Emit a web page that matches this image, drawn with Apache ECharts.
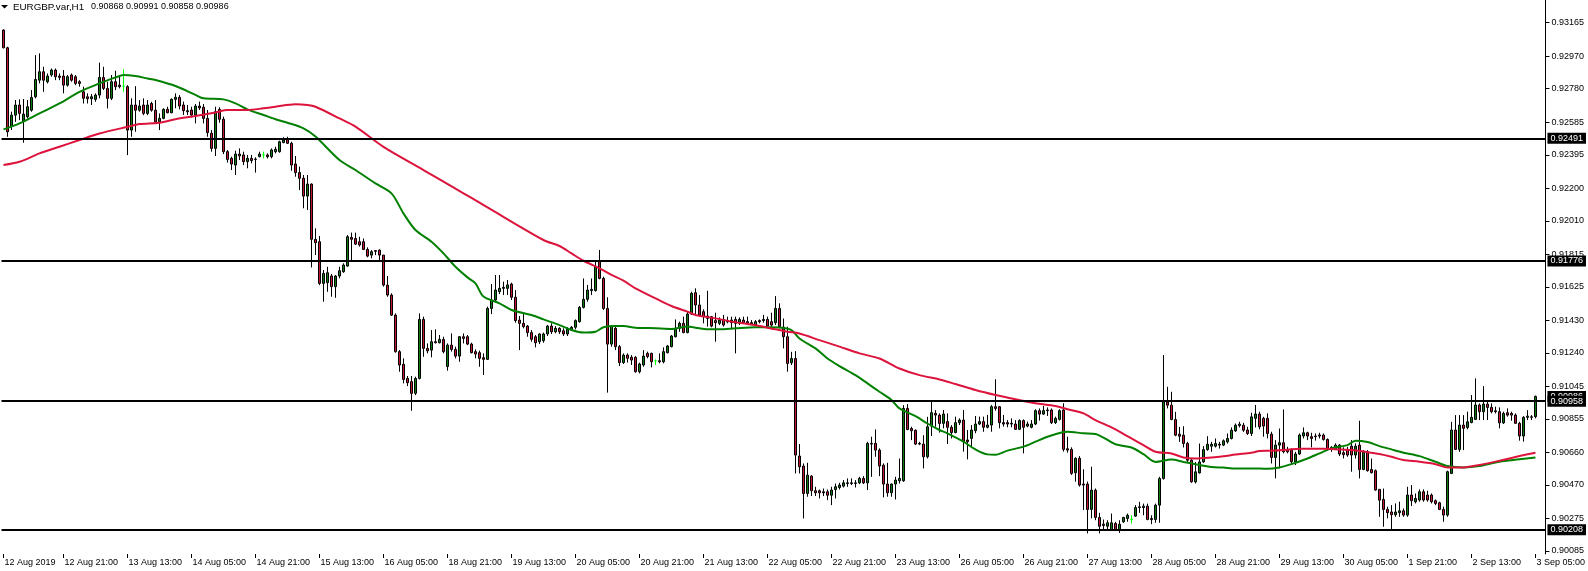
<!DOCTYPE html>
<html><head><meta charset="utf-8">
<script src="https://cdn.jsdelivr.net/npm/echarts@6/dist/echarts.min.js"></script>
<style>html,body{margin:0;padding:0;background:#fff;overflow:hidden}#c{width:1588px;height:571px}</style>
</head><body><div id="c"></div>
<script>
// ---- DATA (prices in points: 1 point = 0.00001) ----
const symbolTitle = 'EURGBP.var,H1';
const lastQuote = ['0.90868', '0.90991', '0.90858', '0.90986'];
// hourly candles [open, high, low, close]
const ohlc = [
[93122,93126,93015,93019],[93019,93025,92500,92529],[92562,92646,92539,92626],[92626,92714,92587,92685],[92685,92718,92597,92636],[92593,92720,92465,92632],[92617,92714,92607,92675],[92655,92772,92646,92729],
[92733,92976,92724,92834],[92830,92986,92811,92879],[92879,92908,92762,92830],[92821,92869,92811,92854],[92860,92898,92850,92889],[92889,92898,92830,92850],[92854,92869,92830,92846],[92854,92889,92753,92801],
[92801,92860,92792,92850],[92860,92869,92821,92830],[92850,92860,92801,92811],[92821,92830,92792,92811],[92762,92792,92694,92724],[92733,92753,92694,92722],[92722,92749,92685,92733],[92718,92753,92704,92743],
[92743,92932,92724,92846],[92846,92908,92772,92782],[92782,92821,92665,92724],[92724,92860,92714,92821],[92821,92885,92772,92792],[92801,92850,92782,92792],[92795,92893,92762,92795],[92792,92801,92393,92539],
[92539,92724,92500,92685],[92685,92795,92529,92655],[92655,92714,92646,92679],[92685,92724,92626,92636],[92636,92714,92626,92685],[92694,92704,92646,92655],[92655,92714,92578,92587],[92587,92636,92539,92607],
[92607,92666,92602,92660],[92660,92675,92637,92640],[92640,92724,92637,92718],[92718,92753,92666,92730],[92730,92743,92660,92679],[92685,92705,92627,92652],[92652,92685,92627,92646],[92656,92675,92613,92627],
[92627,92691,92578,92679],[92679,92705,92656,92668],[92672,92691,92578,92607],[92607,92656,92500,92524],[92520,92539,92413,92432],[92432,92675,92388,92646],[92660,92672,92582,92602],[92602,92617,92399,92413],
[92413,92423,92349,92368],[92374,92384,92306,92341],[92335,92419,92277,92399],[92399,92432,92364,92388],[92394,92413,92335,92355],[92355,92394,92316,92374],[92374,92394,92345,92361],[92370,92380,92291,92368],
[92384,92413,92380,92399],[92394,92413,92374,92394],[92394,92403,92374,92384],[92384,92432,92374,92423],[92413,92442,92403,92427],[92413,92477,92407,92471],[92466,92497,92462,92481],[92485,92500,92458,92462],
[92462,92471,92302,92335],[92341,92388,92267,92291],[92291,92326,92189,92258],[92258,92277,92083,92154],[92154,92277,92073,92224],[92224,92228,91738,91902],[91902,91966,91810,91882],[91888,91921,91635,91645],
[91645,91723,91538,91703],[91649,91742,91596,91707],[91688,91700,91567,91626],[91626,91694,91561,91688],[91688,91742,91674,91719],[91713,91762,91707,91752],[91746,91927,91742,91917],[91913,91941,91781,91902],
[91907,91941,91869,91874],[91888,91917,91859,91869],[91888,91907,91839,91843],[91843,91855,91797,91804],[91810,91839,91791,91830],[91836,91839,91810,91832],[91839,91843,91771,91810],[91810,91810,91626,91635],
[91635,91688,91567,91577],[91577,91587,91455,91460],[91460,91470,91241,91247],[91247,91256,91130,91169],[91173,91208,91062,91085],[91091,91105,91046,91066],[91072,91105,90902,91004],[91004,91101,90994,91091],
[91091,91470,91085,91435],[91435,91451,91217,91266],[91266,91295,91237,91252],[91256,91373,91214,91305],[91305,91377,91295,91299],[91299,91344,91295,91318],[91318,91334,91237,91247],[91160,91295,91136,91285],
[91285,91353,91247,91260],[91260,91276,91208,91221],[91221,91338,91188,91334],[91334,91353,91295,91324],[91334,91344,91285,91291],[91291,91299,91237,91241],[91247,91260,91208,91233],[91241,91253,91159,91208],
[91212,91237,91111,91202],[91202,91509,91198,91499],[91499,91641,91466,91548],[91548,91694,91538,91606],[91597,91694,91583,91616],[91622,91655,91577,91616],[91616,91665,91577,91636],[91641,91649,91548,91564],
[91564,91606,91416,91428],[91431,91455,91256,91412],[91412,91466,91383,91393],[91396,91402,91334,91358],[91358,91373,91305,91319],[91334,91344,91272,91299],[91305,91354,91291,91350],[91311,91358,91299,91350],
[91350,91402,91338,91396],[91396,91412,91350,91363],[91363,91396,91354,91383],[91383,91389,91350,91363],[91369,91383,91338,91350],[91350,91389,91338,91377],[91373,91396,91369,91389],[91389,91435,91377,91428],
[91422,91513,91416,91505],[91505,91674,91499,91552],[91552,91636,91538,91606],[91603,91674,91577,91610],[91603,91781,91597,91742],[91772,91840,91669,91674],[91674,91684,91490,91499],[91499,91564,91008,91291],
[91291,91402,91276,91396],[91383,91402,91256,91276],[91276,91286,91163,91183],[91183,91237,91175,91227],[91227,91237,91183,91208],[91214,91227,91169,91198],[91214,91221,91124,91130],[91130,91183,91120,91175],
[91169,91256,91159,91221],[91237,91247,91208,91218],[91237,91241,91155,91188],[91194,91202,91169,91194],[91194,91237,91179,91188],[91188,91272,91179,91247],[91241,91286,91237,91280],[91276,91344,91272,91338],
[91334,91435,91330,91383],[91383,91422,91363,91412],[91412,91451,91354,91358],[91358,91480,91354,91466],[91466,91597,91461,91587],[91591,91616,91461,91519],[91519,91577,91451,91461],[91480,91494,91412,91451],
[91441,91602,91393,91455],[91451,91455,91389,91396],[91428,91474,91305,91416],[91412,91447,91402,91431],[91435,91461,91393,91402],[91428,91451,91412,91420],[91431,91451,91383,91416],[91435,91451,91237,91412],
[91412,91447,91402,91435],[91431,91451,91412,91416],[91422,91451,91402,91412],[91416,91431,91402,91408],[91402,91431,91396,91422],[91428,91435,91412,91422],[91428,91461,91416,91435],[91435,91451,91389,91396],
[91422,91474,91393,91402],[91416,91571,91402,91499],[91499,91529,91383,91393],[91390,91440,91266,91334],[91334,91392,91130,91178],[91182,91246,91169,91207],[91207,91250,90537,90644],[90638,90708,90537,90576],
[90580,90595,90274,90420],[90420,90599,90401,90527],[90521,90527,90405,90436],[90436,90459,90405,90424],[90436,90443,90391,90424],[90430,90449,90405,90424],[90430,90443,90381,90410],[90410,90459,90352,90440],
[90443,90478,90391,90459],[90455,90482,90443,90469],[90463,90498,90455,90482],[90478,90508,90459,90482],[90478,90508,90469,90482],[90482,90498,90455,90478],[90482,90517,90475,90508],[90508,90521,90475,90482],
[90482,90721,90440,90712],[90712,90751,90517,90708],[90712,90793,90634,90673],[90673,90683,90521,90580],[90585,90595,90397,90475],[90475,90599,90401,90424],[90424,90478,90401,90475],[90475,90517,90385,90498],
[90494,90624,90478,90508],[90494,90935,90488,90916],[90916,90941,90789,90793],[90799,90809,90731,90786],[90789,90793,90702,90708],[90712,90721,90702,90708],[90708,90760,90566,90634],[90634,90867,90624,90809],
[90813,90955,90755,90891],[90887,90906,90809,90877],[90877,90887,90775,90828],[90829,90907,90800,90883],[90839,90887,90708,90806],[90806,90819,90741,90775],[90775,90868,90771,90833],[90833,90858,90819,90848],
[90848,90907,90664,90722],[90732,90790,90619,90722],[90741,90819,90693,90790],[90786,90872,90771,90825],[90825,90868,90819,90839],[90839,90868,90780,90806],[90806,90878,90800,90819],[90819,90936,90780,90926],
[90926,91086,90903,90916],[90926,90930,90800,90833],[90833,90878,90810,90825],[90833,90848,90806,90825],[90829,90858,90806,90825],[90825,90848,90790,90794],[90794,90852,90790,90845],[90845,90852,90654,90806],
[90813,90839,90806,90825],[90806,90848,90800,90825],[90825,90911,90819,90903],[90903,90916,90845,90883],[90883,90930,90878,90903],[90907,90922,90872,90903],[90907,90916,90825,90833],[90833,90868,90825,90858],
[90852,90911,90845,90903],[90907,90946,90664,90677],[90681,90751,90658,90673],[90677,90689,90528,90537],[90541,90631,90489,90625],[90625,90638,90460,90469],[90475,90561,90324,90469],[90475,90489,90187,90327],
[90327,90576,90275,90440],[90439,90449,90264,90280],[90280,90307,90187,90229],[90241,90268,90206,90233],[90229,90264,90210,90249],[90210,90303,90202,90249],[90245,90255,90202,90210],[90210,90264,90190,90241],
[90255,90284,90249,90280],[90274,90303,90255,90293],[90268,90293,90245,90268],[90288,90352,90284,90338],[90338,90371,90307,90342],[90338,90361,90293,90346],[90346,90361,90264,90268],[90274,90293,90241,90268],
[90268,90361,90249,90352],[90352,90517,90249,90507],[90507,91227,90501,90954],[90954,91042,90916,90935],[90935,91013,90847,90851],[90851,90896,90754,90760],[90766,90808,90721,90754],[90760,90812,90688,90711],
[90711,90721,90604,90614],[90614,90624,90482,90488],[90488,90604,90478,90546],[90540,90711,90536,90604],[90604,90696,90599,90676],[90676,90754,90669,90707],[90696,90721,90663,90707],[90696,90741,90688,90711],
[90707,90721,90682,90702],[90702,90735,90696,90727],[90721,90770,90711,90741],[90741,90805,90735,90789],[90785,90828,90779,90818],[90816,90838,90805,90824],[90818,90832,90779,90789],[90790,90809,90761,90770],
[90770,90891,90755,90867],[90858,90936,90805,90883],[90883,90897,90794,90809],[90858,90867,90751,90813],[90858,90887,90741,90770],[90766,90780,90595,90630],[90630,90731,90508,90702],[90702,90799,90566,90716],
[90716,90910,90654,90663],[90673,90692,90654,90663],[90673,90683,90586,90605],[90605,90663,90586,90650],[90650,90770,90644,90761],[90755,90805,90741,90774],[90774,90780,90731,90755],[90751,90774,90689,90741],
[90755,90770,90728,90751],[90761,90774,90741,90755],[90761,90770,90728,90735],[90735,90741,90669,90677],[90689,90696,90663,90681],[90677,90712,90673,90702],[90702,90708,90638,90650],[90658,90689,90624,90646],
[90677,90692,90634,90644],[90696,90731,90547,90644],[90644,90712,90624,90696],[90702,90844,90508,90560],[90560,90673,90556,90663],[90663,90673,90547,90553],[90560,90624,90537,90541],[90553,90560,90436,90440],
[90444,90444,90284,90381],[90385,90449,90226,90327],[90327,90343,90275,90308],[90312,90352,90207,90296],[90296,90362,90284,90312],[90308,90372,90284,90319],[90319,90333,90284,90294],[90294,90459,90284,90411],
[90411,90469,90347,90378],[90372,90420,90362,90391],[90382,90444,90372,90430],[90430,90444,90372,90382],[90411,90436,90372,90382],[90411,90420,90362,90372],[90378,90385,90352,90362],[90366,90372,90323,90327],
[90327,90343,90255,90294],[90294,90553,90284,90547],[90537,90838,90533,90790],[90790,90877,90673,90677],[90677,90877,90663,90819],[90819,90877,90673,90800],[90805,90897,90794,90838],[90834,90994,90829,90864],
[90852,91091,90848,90936],[90936,90945,90848,90897],[90897,91046,90848,90941],[90941,90965,90848,90922],[90922,90945,90887,90897],[90902,90926,90887,90897],[90897,90922,90800,90832],[90832,90897,90825,90887],
[90891,90916,90868,90877],[90887,90897,90844,90877],[90877,90887,90825,90829],[90829,90838,90728,90755],[90755,90871,90722,90864],[90864,90906,90848,90871],[90864,90877,90848,90867],[90868,90991,90858,90986]
];
// moving averages: [bar index, value]
const fastMA = [
[0,92543],[4,92578],[9,92636],[14,92694],[19,92762],[24,92811],[28,92846],[30,92860],[33,92854],[36,92840],[38,92831],[43,92796],[48,92744],[50,92724],[55,92718],[58,92695],[61,92660],[65,92627],[68,92602],[71,92582],[75,92549],[78,92501],[84,92364],[88,92306],[93,92228],[97,92170],[100,92053],[103,91956],[107,91888],[110,91820],[113,91742],[116,91680],[118,91645],[120,91568],[124,91529],[127,91490],[132,91461],[135,91435],[139,91402],[142,91373],[145,91358],[148,91363],[150,91389],[153,91396],[155,91396],[158,91387],[163,91383],[167,91379],[171,91393],[173,91387],[176,91377],[179,91377],[183,91383],[188,91389],[192,91389],[194,91388],[197,91373],[199,91324],[203,91266],[206,91207],[209,91163],[213,91110],[216,91062],[219,91013],[222,90965],[224,90916],[228,90871],[231,90828],[234,90790],[236,90771],[240,90722],[243,90677],[246,90648],[248,90646],[251,90670],[255,90693],[258,90722],[261,90751],[265,90778],[266,90780],[270,90771],[273,90767],[275,90746],[278,90707],[282,90688],[285,90649],[288,90604],[292,90618],[295,90604],[298,90591],[302,90575],[305,90571],[308,90566],[312,90566],[316,90564],[319,90572],[322,90591],[326,90624],[329,90654],[332,90683],[336,90702],[338,90728],[341,90720],[344,90696],[347,90677],[350,90658],[354,90638],[358,90605],[361,90580],[365,90572],[369,90580],[374,90605],[379,90619],[383,90630]
];
const slowMA = [
[0,92335],[4,92354],[9,92403],[14,92442],[19,92481],[24,92519],[31,92558],[34,92574],[39,92582],[43,92602],[48,92621],[53,92642],[56,92656],[61,92656],[65,92666],[68,92675],[73,92689],[76,92685],[78,92675],[84,92607],[88,92559],[95,92441],[105,92306],[110,92238],[113,92197],[117,92143],[121,92088],[135,91898],[139,91863],[142,91820],[145,91777],[149,91733],[152,91694],[155,91661],[158,91616],[163,91558],[167,91513],[171,91480],[173,91461],[178,91441],[182,91422],[186,91408],[189,91396],[193,91377],[196,91363],[199,91353],[204,91314],[209,91276],[214,91237],[219,91207],[224,91149],[229,91110],[234,91085],[238,91058],[243,91023],[248,90994],[253,90969],[258,90946],[263,90930],[266,90911],[270,90887],[273,90848],[277,90805],[282,90741],[285,90702],[288,90663],[292,90653],[295,90630],[298,90624],[302,90630],[305,90637],[308,90647],[312,90657],[314,90667],[317,90669],[321,90675],[324,90681],[327,90681],[330,90681],[334,90677],[337,90673],[341,90661],[344,90650],[347,90634],[350,90615],[354,90605],[358,90591],[361,90572],[365,90572],[369,90586],[374,90611],[379,90638],[383,90658]
];
const levels = [0.92491, 0.91776, 0.90958, 0.90208];
const currentPrice = 0.90986;
const yTickLabels = ['0.93165','0.92970','0.92780','0.92585','0.92395','0.92200','0.92010','0.91815','0.91625','0.91430','0.91240','0.91045','0.90855','0.90660','0.90470','0.90275','0.90085'];
const xTickLabels = ['12 Aug 2019','12 Aug 21:00','13 Aug 13:00','14 Aug 05:00','14 Aug 21:00','15 Aug 13:00','16 Aug 05:00','18 Aug 21:00','19 Aug 13:00','20 Aug 05:00','20 Aug 21:00','21 Aug 13:00','22 Aug 05:00','22 Aug 21:00','23 Aug 13:00','26 Aug 05:00','26 Aug 21:00','27 Aug 13:00','28 Aug 05:00','28 Aug 21:00','29 Aug 13:00','30 Aug 05:00','1 Sep 21:00','2 Sep 13:00','3 Sep 05:00'];
const xTickBars = [0,15,31,47,63,79,95,111,127,143,159,175,191,207,223,239,255,271,287,303,319,335,351,367,383];

// ---- BUILD ----
const P = v => v / 100000;
const nBars = ohlc.length;
const labelAt = {};
xTickBars.forEach((b, i) => { labelAt[b] = xTickLabels[i]; });
const categories = [];
for (let i = 0; i < nBars + 2; i++) categories.push(labelAt[i] !== undefined ? labelAt[i] : 'b' + i);
const isTick = (idx) => labelAt[idx] !== undefined;

const BULL = '#0d7d12', BEAR = '#c2152f', DOJI = '#00ff00';
const candleData = ohlc.map(([o, h, l, c]) => {
  const d = { value: [P(o), P(c), P(l), P(h)] };
  if (o === c) d.itemStyle = { color: DOJI, color0: DOJI, borderColor: DOJI, borderColor0: DOJI };
  return d;
});
const font = 'Liberation Sans';
const chart = echarts.init(document.getElementById('c'), null, { renderer: 'canvas' });
const yMax = 0.932974, yMin = 0.900671;
const tagLabel = { show: true, position: 'end', distance: 2, formatter: (p) => Number(p.value).toFixed(5), backgroundColor: '#000', color: '#fff', padding: [1, 3, 1, 3], fontSize: 9, fontFamily: font, opacity: 1 };

chart.setOption({
  animation: false,
  backgroundColor: '#ffffff',
  grid: { left: 1.5, right: 42.5, top: 0, bottom: 17, containLabel: false },
  xAxis: {
    type: 'category', data: categories, boundaryGap: true,
    axisLine: { show: false },
    axisTick: { show: true, interval: (i) => isTick(i), alignWithLabel: true, length: 4, lineStyle: { color: '#000', width: 1 } },
    axisLabel: { interval: (i) => isTick(i), formatter: (v) => (v.charAt(0) === 'b' ? '' : v), align: 'left', fontSize: 9, fontFamily: font, color: '#000', margin: 4, padding: [0, 0, 0, 1] },
    splitLine: { show: false }
  },
  yAxis: {
    type: 'value', position: 'right', min: yMin, max: yMax, scale: true,
    axisLine: { show: true, lineStyle: { color: '#000', width: 1 } },
    axisTick: { show: true, length: 4, customValues: yTickLabels.map(Number), lineStyle: { color: '#000' } },
    axisLabel: { customValues: yTickLabels.map(Number), formatter: (v) => v.toFixed(5), fontSize: 9, fontFamily: font, color: '#000', margin: 6 },
    splitLine: { show: false }
  },
  graphic: [
    { type: 'polygon', shape: { points: [[1, 5], [8, 5], [4.5, 8.5]] }, style: { fill: '#000' }, z: 10 },
    { type: 'text', x: 13, y: 7, style: { text: symbolTitle, fontSize: 9.8, fontFamily: font, fill: '#000', verticalAlign: 'middle' }, z: 10 },
    { type: 'text', x: 91, y: 7, style: { text: lastQuote.join(' '), fontSize: 9, fontFamily: font, fill: '#000', verticalAlign: 'middle' }, z: 10 }
  ],
  series: [
    {
      type: 'candlestick', data: candleData, barWidth: 3, z: 2,
      itemStyle: { color: BULL, color0: BEAR, borderColor: '#000', borderColor0: '#000', borderWidth: 1 },
      markLine: {
        silent: true, symbol: ['none', 'none'], animation: false, precision: 5, z: 3,
        label: tagLabel,
        lineStyle: { color: 'rgba(0,0,0,0)', width: 1, type: 'solid' },
        data: [{ yAxis: currentPrice }]
      }
    },
    {
      type: 'line', data: fastMA.map(([i, v]) => [i, P(v)]), showSymbol: false, smooth: 0.3, z: 4,
      lineStyle: { color: '#008000', width: 2 }, silent: true
    },
    {
      type: 'line', data: slowMA.map(([i, v]) => [i, P(v)]), showSymbol: false, smooth: 0.3, z: 4,
      lineStyle: { color: '#dc143c', width: 2 }, silent: true
    },
    {
      type: 'line', data: [], z: 5, silent: true,
      markLine: {
        silent: true, symbol: ['none', 'none'], animation: false, precision: 5,
        label: tagLabel,
        lineStyle: { color: '#000', width: 2, type: 'solid' },
        data: levels.map(v => ({ yAxis: v }))
      }
    }
  ]
});
</script>
</body></html>
